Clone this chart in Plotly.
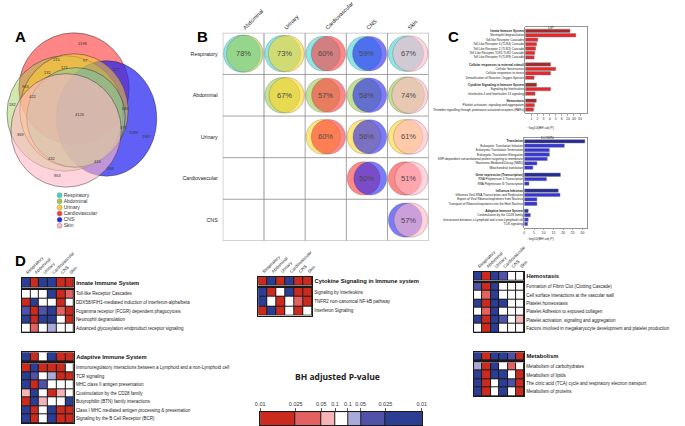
import plotly.graph_objects as go

W, H = 685, 426
FONT = "Liberation Sans, Arial, sans-serif"

# ---------------- data ----------------
tissues = ["Respiratory", "Abdominal", "Urinary", "Cardiovascular", "CNS", "Skin"]
tissue_colors = ["#3FD6D9", "#9DCB4F", "#FFD426", "#FF3B3B", "#2323F2", "#FFB8C6"]

# panel A: Venn region counts
venn_counts = [1198, 215, 97, 277, 131, 121, 963, 422, 182, 4126, 636, 375,
               2088, 1987, 369, 432, 416, 268, 863]

# panel B: pairwise overlap (%)
b_rows = ["Respiratory", "Abdominal", "Urinary", "Cardiovascular", "CNS"]
b_cols = ["Abdominal", "Urinary", "Cardiovascular", "CNS", "Skin"]
b_overlap = [[78, 73, 60, 59, 67],
             [None, 67, 57, 58, 74],
             [None, None, 60, 56, 61],
             [None, None, None, 50, 51],
             [None, None, None, None, 57]]

# panel C: enrichment bars
up_labels = ["Innate Immune System", "Neutrophil degranulation", "Toll-like Receptor Cascades",
             "Toll Like Receptor 4 (TLR4) Cascade", "Toll Like Receptor 2 (TLR2) Cascade",
             "Toll Like Receptor TLR1:TLR2 Cascade", "Toll Like Receptor 9 (TLR9) Cascade",
             "Cellular responses to external stimuli", "Cellular Senescence",
             "Cellular responses to stress", "Detoxification of Reactive Oxygen Species",
             "Cytokine Signaling in Immune System", "Signaling by Interleukins",
             "Interleukin-4 and Interleukin-13 signaling",
             "Hemostasis", "Platelet activation, signaling and aggregation",
             "Thrombin signalling through proteinase activated receptors (PARs)"]
up_values = [7.35, 8.3, 2.05, 1.85, 1.7, 1.55, 1.45,
             4.15, 5.0, 4.15, 1.45,
             1.85, 4.15, 1.6,
             1.8, 1.5, 1.35]
up_group_sizes = [7, 4, 3, 3]
up_tickvals = [1, 2, 3, 4, 5, 6, 7, 8, 9]
up_ticktext = ["1", "2", "3", "4", "5", "6", "10", "40", "50"]

down_labels = ["Translation", "Eukaryotic Translation Initiation", "Eukaryotic Translation Termination",
               "Eukaryotic Translation Elongation",
               "SRP-dependent cotranslational protein targeting to membrane",
               "Nonsense-Mediated Decay (NMD)", "Mitochondrial translation",
               "Gene expression (Transcription)", "RNA Polymerase II Transcription",
               "RNA Polymerase III Transcription",
               "Influenza Infection", "Influenza Viral RNA Transcription and Replication",
               "Export of Viral Ribonucleoproteins from Nucleus",
               "Transport of Ribonucleoproteins into the Host Nucleus",
               "Adaptive Immune System", "Costimulation by the CD28 family",
               "Interactions between a Lymphoid and a non-Lymphoid cell", "TCR signaling"]
down_values = [31.2, 20.6, 12.9, 12.9, 11.8, 6.5, 4.4,
               18.6, 11.4, 2.4,
               17.5, 18.4, 6.5, 6.5,
               2.0, 3.1, 2.0, 1.7]
down_group_sizes = [7, 3, 4, 4]
down_tickvals = [0, 5, 10, 15, 20, 25, 30]

# panel D: signed significance codes (-3 strong down ... +3 strong up)
innate_header = [-3, 3, -3, -3, 3, 3]
innate_rows = ["Toll-like Receptor Cascades",
               "DDX58/IFIH1-mediated induction of interferon-alpha/beta",
               "Fcgamma receptor (FCGR) dependent phagocytosis",
               "Neutrophil degranulation",
               "Advanced glycosylation endproduct receptor signaling"]
innate_z = [[0, 0, 0, -3, 3, 2],
            [3, -3, 0, 0, 3, 0],
            [-2, 3, -2, -3, 2, 3],
            [-3, 3, -3, -3, 0, 3],
            [0, 2, 0, -1, 0, 0]]

adaptive_header = [-3, 3, 0, -3, 3, 3]
adaptive_rows = ["Immunoregulatory interactions between a Lymphoid and a non-Lymphoid cell",
                 "TCR signaling", "MHC class II antigen presentation",
                 "Costimulation by the CD28 family", "Butyrophilin (BTN) family interactions",
                 "Class I MHC mediated antigen processing & presentation",
                 "Signaling by the B Cell Receptor (BCR)"]
adaptive_z = [[3, -3, 3, 3, 3, 0],
              [-3, -2, 0, -1, 3, 3],
              [-3, 3, -2, 0, 0, 0],
              [1, -3, 0, 3, 1, 0],
              [3, -3, 1, 0, 0, -3],
              [-3, 3, 0, -3, 3, 3],
              [-3, 3, 0, -3, 3, 3]]

cytokine_header = [3, -3, 3, -3, 3, 3]
cytokine_rows = ["Signaling by Interleukins", "TNFR2 non-canonical NF-kB pathway",
                 "Interferon Signaling"]
cytokine_z = [[-3, 3, 0, -3, 3, 3],
              [-3, 0, 3, 0, 2, 3],
              [3, -3, 3, 0, 3, 0]]

hemostasis_header = [-3, 3, -3, -2, 0, 0]
hemostasis_rows = ["Formation of Fibrin Clot (Clotting Cascade)",
                   "Cell surface interactions at the vascular wall",
                   "Platelet homeostasis", "Platelet Adhesion to exposed collagen",
                   "Platelet activation, signaling and aggregation",
                   "Factors involved in megakaryocyte development and platelet production"]
hemostasis_z = [[-2, 3, -3, 0, 0, 0],
                [0, 2, -3, 0, 0, 0],
                [-3, 3, -3, -3, 0, 0],
                [0, 2, -3, 0, 0, 0],
                [-3, 3, -3, -2, 0, 1],
                [0, 3, -3, 0, 0, 0]]

metabolism_header = [-3, 3, -3, -3, -2, 3]
metabolism_rows = ["Metabolism of carbohydrates", "Metabolism of lipids",
                   "The citric acid (TCA) cycle and respiratory electron transport",
                   "Metabolism of proteins"]
metabolism_z = [[-1, 3, -3, 0, 2, 0],
                [-3, 3, -3, -3, 0, 3],
                [-3, 3, 0, -3, -2, 3],
                [-3, 3, 0, -3, 0, 3]]

# colour key
key_codes = [3, 2, 1, 0, -1, -2, -3]
key_ticktext = ["0.01", "0.025", "0.05", "0.1", "0.1", "0.05", "0.025", "0.01"]

# ---------------- layout geometry (px) ----------------
VENN_GEOM = {  # cx, cy, rx, ry, alpha
    "Cardiovascular": (70, 88, 56, 56, 0.62),
    "CNS": (103, 118, 51, 58, 0.72),
    "Abdominal": (61, 113, 59, 58, 0.45),
    "Urinary": (70, 110, 55, 57, 0.5),
    "Respiratory": (72, 117, 50, 50, 0.3),
    "Skin": (62, 130, 56, 57, 0.6),
}
VENN_LABEL_XY = [(79, 43), (52, 59), (82, 60), (113, 69), (43, 72), (60, 67), (21, 86),
                 (28, 96), (8, 104), (76, 114), (122, 108), (120, 127), (131, 132),
                 (144, 136), (16, 134), (47, 158), (94, 161), (107, 168), (53, 175)]
KEY_EDGES = [0, 36, 62, 76, 89, 102, 127, 164]

HM_COLORS = ["#2C3D94", "#5052A9", "#AAAADA", "#FFFFFF", "#F4B4B8", "#E26262", "#CB2A1F"]


def stepped(colors):
    n = len(colors)
    cs = []
    for i, c in enumerate(colors):
        cs.append([i / n, c])
        cs.append([(i + 1) / n, c])
    return cs


HM_SCALE = stepped(HM_COLORS)
BLACK = [[0, "#1a1a1a"], [1, "#1a1a1a"]]


def rgba(hex_c, a):
    h = hex_c.lstrip("#")
    return f"rgba({int(h[0:2], 16)},{int(h[2:4], 16)},{int(h[4:6], 16)},{a})"


def px_x(a, b):
    return [a / W, b / W]


def px_y(top, bottom):
    return [1 - bottom / H, 1 - top / H]


fig = go.Figure()
layout_axes = {}
shapes = []
annotations = []
_count = [0]


def axes(xpx, ypx, xopt=None, yopt=None):
    _count[0] += 1
    n = _count[0]
    s = "" if n == 1 else str(n)
    base = dict(showgrid=False, zeroline=False, showticklabels=False, ticks="",
                showline=False, fixedrange=True)
    xo = dict(base)
    xo.update(domain=px_x(*xpx), anchor="y" + s)
    xo.update(xopt or {})
    yo = dict(base)
    yo.update(domain=px_y(*ypx), anchor="x" + s)
    yo.update(yopt or {})
    layout_axes["xaxis" + s] = xo
    layout_axes["yaxis" + s] = yo
    return "x" + s, "y" + s


# ---------------- Panel A: Venn ----------------
xa, ya = axes((0, 160), (25, 195), dict(range=[0, 160]), dict(range=[195, 25]))
for name in ["Cardiovascular", "CNS", "Abdominal", "Urinary", "Respiratory", "Skin"]:
    cx, cy, rx, ry, al = VENN_GEOM[name]
    col = tissue_colors[tissues.index(name)]
    shapes.append(dict(type="circle", xref=xa, yref=ya, x0=cx - rx, x1=cx + rx,
                       y0=cy - ry, y1=cy + ry, fillcolor=rgba(col, al),
                       line=dict(color="rgba(40,40,40,0.75)", width=0.6), layer="above"))
for cnt, (lx, ly) in zip(venn_counts, VENN_LABEL_XY):
    annotations.append(dict(x=lx, y=ly, xref=xa, yref=ya, text=str(cnt), showarrow=False,
                            font=dict(size=4, color="#333")))

# legend of panel A
xl, yl = axes((52, 120), (190, 231), dict(range=[0, 1]),
              dict(type="category", categoryorder="array", categoryarray=tissues,
                   autorange="reversed"))
fig.add_trace(go.Scatter(x=[0.05] * len(tissues), y=tissues, xaxis=xl, yaxis=yl,
                         mode="markers+text", text=tissues, textposition="middle right",
                         textfont=dict(size=5, color="#333"),
                         marker=dict(size=5, color=tissue_colors,
                                     line=dict(color="#888", width=0.5)),
                         hoverinfo="skip", showlegend=False))

# ---------------- Panel B: pairwise overlaps ----------------
nb = len(b_rows)
xb, yb = axes((221, 430), (32, 241),
              dict(range=[0, nb], side="top", showticklabels=True,
                   tickvals=[j + 0.5 for j in range(nb)], ticktext=b_cols, tickangle=-45,
                   tickfont=dict(size=5.5, color="#222")),
              dict(range=[nb, 0], showticklabels=True,
                   tickvals=[i + 0.5 for i in range(nb)], ticktext=b_rows,
                   tickfont=dict(size=5.3, color="#222"), ticks="outside", ticklen=3,
                   tickcolor="rgba(0,0,0,0)"))
for k in range(nb + 1):
    shapes.append(dict(type="line", xref=xb, yref=yb, x0=k, x1=k, y0=0, y1=nb,
                       line=dict(color="#c8c8c8" if k == 1 else "#8a8a8a",
                                 width=2 if k == 1 else 0.8), layer="below"))
    shapes.append(dict(type="line", xref=xb, yref=yb, x0=0, x1=nb, y0=k, y1=k,
                       line=dict(color="#8a8a8a", width=0.8), layer="below"))
for i, rname in enumerate(b_rows):
    for j, cname in enumerate(b_cols):
        p = b_overlap[i][j]
        if p is None:
            continue
        d = (1 - p / 100) * 0.32
        R = 0.48 - d / 2
        cx, cy = j + 0.5, i + 0.5
        for c, off in ((tissue_colors[tissues.index(rname)], -d / 2),
                       (tissue_colors[tissues.index(cname)], d / 2)):
            shapes.append(dict(type="circle", xref=xb, yref=yb, x0=cx + off - R, x1=cx + off + R,
                               y0=cy - R, y1=cy + R, fillcolor=rgba(c, 0.6),
                               line=dict(color="rgba(80,80,80,0.55)", width=0.5), layer="above"))
        annotations.append(dict(x=cx, y=cy, xref=xb, yref=yb, text=f"{p}%", showarrow=False,
                                font=dict(size=7.5, color="#4a4a4a")))


# ---------------- Panel C: bar charts ----------------
def positions(group_sizes):
    pos, y = [], 0
    for g in group_sizes:
        for _ in range(g):
            pos.append(y)
            y += 1
        y += 0.6
    return pos


def header_flags(group_sizes):
    flags = []
    for g in group_sizes:
        flags += [True] + [False] * (g - 1)
    return flags


def bar_panel(xpx, ypx, labels, values, sizes, col_h, col_i, xrange, tickvals, ticktext, title):
    pos = positions(sizes)
    flags = header_flags(sizes)
    xr, yr = axes(xpx, ypx,
                  dict(range=xrange, showticklabels=True, tickvals=tickvals, ticktext=ticktext,
                       ticks="outside", ticklen=1.5, tickwidth=0.5, tickcolor="#555",
                       tickfont=dict(size=3.5, color="#333"), showline=True, mirror=True,
                       linecolor="#666", linewidth=0.7),
                  dict(range=[pos[-1] + 0.9, -0.9], showticklabels=True, tickvals=pos,
                       ticktext=[f"<b>{t}</b>" if f else t for t, f in zip(labels, flags)],
                       tickfont=dict(size=3.1, color="#222"), showline=True, mirror=True,
                       linecolor="#666", linewidth=0.7))
    fig.add_trace(go.Bar(x=values, y=pos, orientation="h", xaxis=xr, yaxis=yr, width=0.75,
                         marker=dict(color=[col_h if f else col_i for f in flags],
                                     line=dict(color="#777", width=0.5)),
                         hoverinfo="skip", showlegend=False))
    mid = (xpx[0] + xpx[1]) / 2
    annotations.append(dict(x=mid / W, y=1 - (ypx[0] - 4) / H, xref="paper", yref="paper",
                            text=title, showarrow=False, font=dict(size=4, color="#333")))
    annotations.append(dict(x=mid / W, y=1 - (ypx[1] + 11) / H, xref="paper", yref="paper",
                            text="\u2212log10(BH adj P)", showarrow=False,
                            font=dict(size=3.5, color="#333")))


bar_panel((528, 591), (26, 113), up_labels, up_values, up_group_sizes, "#A82828", "#E8262C",
          [0, 10.2], up_tickvals, up_ticktext, "UP")
bar_panel((527, 591), (137, 228), down_labels, down_values, down_group_sizes, "#262A94",
          "#3434DC", [0, 32.5], down_tickvals, [str(v) for v in down_tickvals], "DOWN")


# ---------------- Panel D: heatmaps ----------------
def hm_block(xpx, hdr_px, rows_px, title, hdr_vals, names, vals, col_labels):
    ncol = len(hdr_vals)
    frame = dict(showline=True, mirror=True, linecolor="#1a1a1a", linewidth=1)
    xo = dict(range=[-0.5, ncol - 0.5], **frame)
    if col_labels:
        xo.update(side="top", showticklabels=True, tickvals=list(range(ncol)), ticktext=tissues,
                  tickangle=-45, tickfont=dict(size=4.4, color="#222"))
    xr, yr = axes(xpx, hdr_px, xo,
                  dict(range=[-0.5, 0.5], side="right", showticklabels=True, tickvals=[0],
                       ticktext=[f"<b>{title}</b>"], tickfont=dict(size=5.8, color="#111"),
                       **frame))
    fig.add_trace(go.Heatmap(z=[[0] * ncol], x=list(range(ncol)), y=[0], xaxis=xr, yaxis=yr,
                             colorscale=BLACK, showscale=False, hoverinfo="skip"))
    fig.add_trace(go.Heatmap(z=[hdr_vals], x=list(range(ncol)), y=[0], xaxis=xr, yaxis=yr,
                             colorscale=HM_SCALE, zmin=-3.5, zmax=3.5, xgap=1, ygap=1,
                             showscale=False, hoverinfo="skip"))
    nrow = len(names)
    xr2, yr2 = axes(xpx, rows_px, dict(range=[-0.5, ncol - 0.5], **frame),
                    dict(range=[nrow - 0.5, -0.5], side="right", showticklabels=True,
                         tickvals=list(range(nrow)), ticktext=names,
                         tickfont=dict(size=4.5, color="#222"), **frame))
    fig.add_trace(go.Heatmap(z=[[0] * ncol for _ in range(nrow)], x=list(range(ncol)),
                             y=list(range(nrow)), xaxis=xr2, yaxis=yr2, colorscale=BLACK,
                             showscale=False, hoverinfo="skip"))
    fig.add_trace(go.Heatmap(z=vals, x=list(range(ncol)), y=list(range(nrow)), xaxis=xr2,
                             yaxis=yr2, colorscale=HM_SCALE, zmin=-3.5, zmax=3.5, xgap=1,
                             ygap=1, showscale=False, hoverinfo="skip"))


hm_block((17, 70), (278, 288), (290, 333), "Innate Immune System", innate_header,
         innate_rows, innate_z, True)
hm_block((17, 70), (353, 362), (364, 424), "Adaptive Immune System", adaptive_header,
         adaptive_rows, adaptive_z, False)
hm_block((257, 312), (277, 286), (288, 316), "Cytokine Signaling in Immune system",
         cytokine_header, cytokine_rows, cytokine_z, True)
hm_block((476, 527), (272, 281), (283, 333), "Hemostasis", hemostasis_header,
         hemostasis_rows, hemostasis_z, True)
hm_block((476, 527), (353, 361), (363, 397), "Metabolism", metabolism_header,
         metabolism_rows, metabolism_z, False)

# colour key
xk, yk = axes((259, 423), (413, 426),
              dict(range=[KEY_EDGES[0], KEY_EDGES[-1]], side="top", showticklabels=True,
                   tickvals=KEY_EDGES, ticktext=key_ticktext, ticks="outside", ticklen=3,
                   tickwidth=0.8, tickcolor="#333", tickfont=dict(size=5.5, color="#333"),
                   showline=True, mirror=True, linecolor="#1a1a1a", linewidth=1),
              dict(range=[-0.5, 0.5], showline=True, mirror=True, linecolor="#1a1a1a",
                   linewidth=1))
fig.add_trace(go.Heatmap(z=[[0] * len(key_codes)], x=KEY_EDGES, y=[0], xaxis=xk, yaxis=yk,
                         colorscale=BLACK, showscale=False, hoverinfo="skip"))
fig.add_trace(go.Heatmap(z=[key_codes], x=KEY_EDGES, y=[0], xaxis=xk, yaxis=yk,
                         colorscale=HM_SCALE, zmin=-3.5, zmax=3.5, xgap=1, showscale=False,
                         hoverinfo="skip"))
annotations.append(dict(x=337 / W, y=1 - 385 / H, xref="paper", yref="paper",
                        text="<b>BH adjusted P-value</b>", showarrow=False,
                        font=dict(size=8.5, color="#222", family="Open Sans, sans-serif")))

# panel letters
for letter, lx, ly in (("A", 8, 25), ("B", 193, 25), ("C", 455, 25), ("D", 8, 261)):
    annotations.append(dict(x=lx / W, y=1 - ly / H, xref="paper", yref="paper", text=f"<b>{letter}</b>",
                            showarrow=False, font=dict(size=15, color="#000")))

fig.update_layout(width=W, height=H, margin=dict(l=0, r=0, t=0, b=0),
                  paper_bgcolor="white", plot_bgcolor="rgba(0,0,0,0)", showlegend=False,
                  hovermode=False,
                  font=dict(family=FONT, color="#222"), shapes=shapes,
                  annotations=annotations, **layout_axes)

fig.write_html("out.html", config={"displayModeBar": False, "staticPlot": True},
               post_script="document.body.style.margin='0px';document.body.style.overflow='hidden';")
